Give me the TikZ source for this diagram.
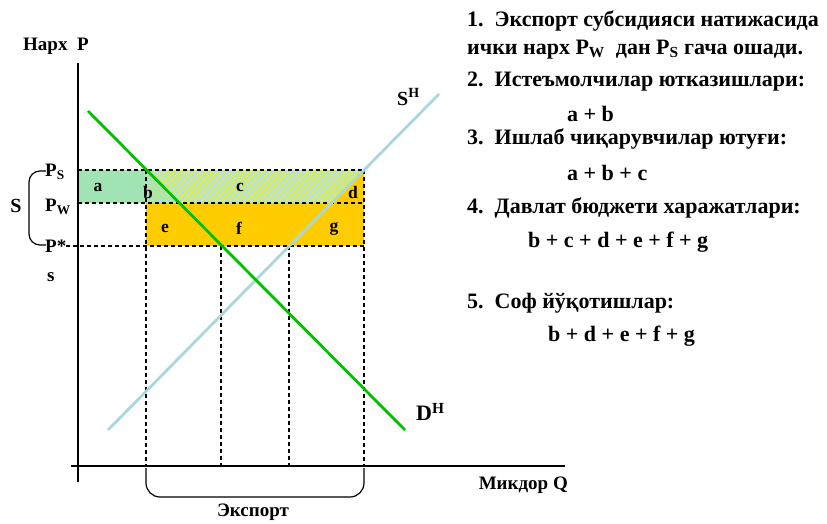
\documentclass[tikz,border=0pt]{standalone}
\usepackage{fontspec}
\setmainfont{Liberation Serif}
\usetikzlibrary{patterns.meta}
\definecolor{areaA}{HTML}{A0E4B4}
\definecolor{lightblue}{HTML}{B6E0E6}
\definecolor{stripe}{HTML}{DDEE44}
\definecolor{orangeY}{HTML}{FFCC00}
\definecolor{demandG}{HTML}{00C000}
\definecolor{supplyB}{HTML}{A8D8DE}
\tikzset{
  lbl/.style={font=\fontsize{19}{22}\selectfont\bfseries, inner sep=0pt},
  reg/.style={font=\fontsize{17.5}{20}\selectfont\bfseries, inner sep=0pt},
  rtxt/.style={font=\fontsize{22}{26}\selectfont\bfseries, inner sep=0pt, anchor=west},
  guide/.style={dash pattern=on 4pt off 3pt, line width=1.1pt},
  axisline/.style={line width=1.3pt},
  bracket/.style={line width=1.2pt},
}
\begin{document}
\begin{tikzpicture}[x=1pt,y=-1pt]
\useasboundingbox (0,0) rectangle (827,524);
% key coordinates
\coordinate (O) at (78,466);
\coordinate (Ytop) at (78,63);
\coordinate (Yend) at (78,482);
\coordinate (Xleft) at (71,466);
\coordinate (Xright) at (565,466);
% areas
\fill[areaA] (78,170) rectangle (146,203);
\fill[lightblue] (146,170) rectangle (364,203);
\fill[pattern={Lines[angle=45,distance=4.5pt,line width=2pt]}, pattern color=stripe] (146,170) rectangle (364,203);
\fill[areaA, opacity=0.6] (146,170) -- (146.6,170) -- (179.4,203) -- (146,203) -- cycle;
\fill[orangeY] (146,203) rectangle (364,246);
\fill[orangeY] (331.4,203) -- (364,170) -- (364,203) -- cycle;
% dashed guides
\draw[guide] (78,170) -- (364,170);
\draw[guide] (78,203) -- (364,203);
\draw[guide] (66,246) -- (364,246);
\draw[guide] (146,170) -- (146,466);
\draw[guide] (221,246) -- (221,466);
\draw[guide] (289,246) -- (289,466);
\draw[guide] (364,170) -- (364,466);
% axes
\draw[axisline] (Ytop) -- (Yend);
\draw[axisline] (Xleft) -- (Xright);
% curves
\coordinate (D1) at (88,111);
\coordinate (D2) at (405,430);
\coordinate (S1) at (108,430);
\coordinate (S2) at (439,94);
\draw[supplyB, line width=2.8pt] (S1) -- (S2);
\draw[demandG, line width=2.8pt] (D1) -- (D2);
% brackets
\draw[bracket, rounded corners=11pt] (46,171) -- (29,171) -- (29,245) -- (46,245);
\draw[bracket, rounded corners=14pt] (146,468) -- (146,497) -- (364,497) -- (364,468);
% axis / price labels
\node[lbl, anchor=west] (narkh) at (23,46) {Нарх\ \ P};
\node[font=\fontsize{20}{24}\selectfont\bfseries, inner sep=0pt] (Sbig) at (16,206) {S};
\node[lbl, anchor=west] (Ps) at (45,172) {P\textsubscript{S}};
\node[lbl, anchor=west] (Pw) at (45,207) {P\textsubscript{W}};
\node[lbl, anchor=west] (Pstar) at (45,246) {P*};
\node[lbl, anchor=west] (sl) at (47,277) {s};
\node[lbl, anchor=east] (miqdor) at (568,485) {Микдор Q};
\node[lbl] (eksport) at (253,512) {Экспорт};
\node[font=\fontsize{20}{24}\selectfont\bfseries, inner sep=0pt, anchor=west] (SH) at (397,97) {S\textsuperscript{H}};
\node[font=\fontsize{22}{26}\selectfont\bfseries, inner sep=0pt, anchor=west] (DH) at (416,412) {D\textsuperscript{H}};
% region labels
\node[reg] (ra) at (98,187) {a};
\node[reg] (rb) at (148,193) {b};
\node[reg] (rc) at (240,187) {c};
\node[reg] (rd) at (353,193) {d};
\node[reg] (re) at (165,228) {e};
\node[reg] (rf) at (239,228) {f};
\node[reg] (rg) at (334,229) {g};
% right text
\node[rtxt] (t1a) at (467,21) {1.\ \ Экспорт субсидияси натижасида};
\node[rtxt] (t1b) at (467,50) {ички нарх P\textsubscript{W}\ \ дан P\textsubscript{S} гача ошади.};
\node[rtxt] (t2) at (467,82) {2.\ \ Истеъмолчилар ютказишлари:};
\node[rtxt] (t2f) at (567,114) {a + b};
\node[rtxt] (t3) at (467,139) {3.\ \ Ишлаб чиқарувчилар ютуғи:};
\node[rtxt] (t3f) at (567,173) {a + b + c};
\node[rtxt] (t4) at (467,208) {4.\ \ Давлат бюджети харажатлари:};
\node[rtxt] (t4f) at (528,242) {b + c + d + e + f + g};
\node[rtxt] (t5) at (467,303) {5.\ \ Соф йўқотишлар:};
\node[rtxt] (t5f) at (548,336) {b + d + e + f + g};
\end{tikzpicture}
\end{document}
